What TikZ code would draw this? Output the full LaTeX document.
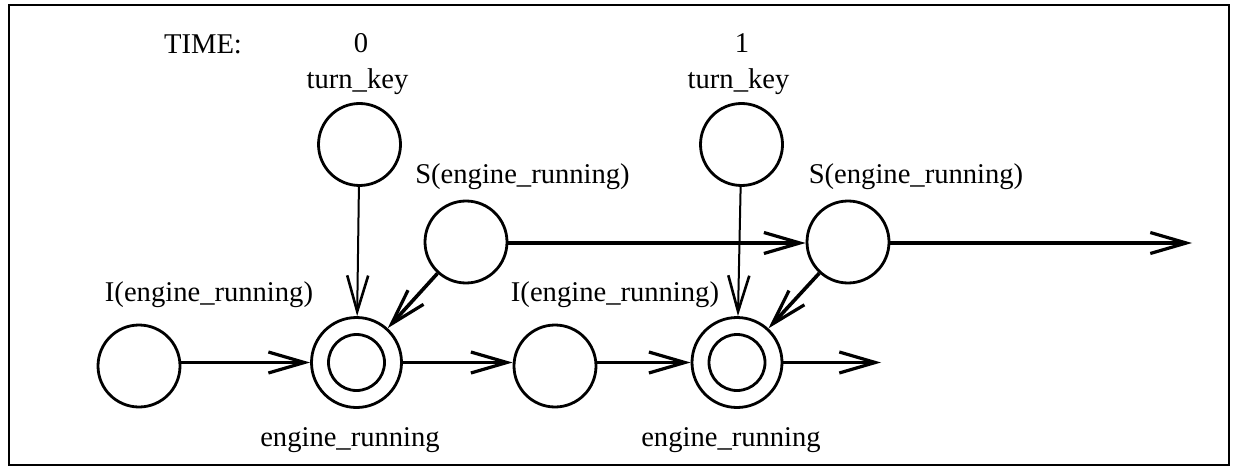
\documentclass[tikz,border=0pt]{standalone}
\usepackage{fontspec}
\setmainfont{Liberation Serif}
\usetikzlibrary{arrows.meta}
\begin{document}
\begin{tikzpicture}[x=0.5pt,y=-0.5pt,
  st/.style={circle,draw,line width=1.4pt,minimum size=41pt,inner sep=0pt},
  outer/.style={circle,draw,line width=1.4pt,minimum size=45pt,inner sep=0pt},
  inner/.style={circle,draw,line width=1.4pt,minimum size=28pt,inner sep=0pt},
  lbl/.style={font=\fontsize{14.3}{16}\selectfont,inner sep=0pt},
  arr/.style={line width=1.8pt,-{Straight Barb[length=18pt,width=10.5pt,line width=1.6pt]}},
  varr/.style={line width=1pt,-{Straight Barb[length=18pt,width=10.5pt,line width=1.3pt]}}]
\useasboundingbox (0,0) rectangle (1235,470);
\node[draw,line width=1.2pt,minimum width=610pt,minimum height=230pt,inner sep=0pt] (frame) at (619,235) {};
% labels
\node[lbl] (time) at (203,44) {TIME:};
\node[lbl] (t0) at (361,43) {0};
\node[lbl] (t1) at (742,43) {1};
\node[lbl] (tk0l) at (357.5,82) {turn\_key};
\node[lbl] (tk1l) at (738.5,82) {turn\_key};
\node[lbl] (s0l) at (522.5,177) {S(engine\_running)};
\node[lbl] (s1l) at (916,177) {S(engine\_running)};
\node[lbl] (i0l) at (209,295) {I(engine\_running)};
\node[lbl] (i1l) at (615,295) {I(engine\_running)};
\node[lbl] (e0l) at (350,440) {engine\_running};
\node[lbl] (e1l) at (731,440) {engine\_running};
% nodes
\node[st] (tk0) at (359.5,144.5) {};
\node[st] (tk1) at (741.5,144.5) {};
\node[st] (s0) at (466,242) {};
\node[st] (s1) at (848,242) {};
\node[st] (i0) at (139,366) {};
\node[st] (i1) at (555,366) {};
\node[outer] (e0) at (356.5,362.5) {};
\node[inner] (e0i) at (356.5,362.5) {};
\node[outer] (e1) at (737,362.5) {};
\node[inner] (e1i) at (737,362.5) {};
\coordinate (s1end) at (1192,243);
\coordinate (e1end) at (881,362.5);
% edges
\draw[varr] (tk0) -- (e0);
\draw[varr] (tk1) -- (e1);
\draw[arr] (s0) -- (e0);
\draw[arr] (s1) -- (e1);
\draw[arr] (s0.east |- 0,243) -- (s1.west |- 0,243);
\draw[arr] (s1.east |- 0,243) -- (s1end);
\draw[arr] (i0.east |- 0,362.5) -- (e0);
\draw[arr] (e0) -- (i1.west |- 0,362.5);
\draw[arr] (i1.east |- 0,362.5) -- (e1);
\draw[arr] (e1) -- (e1end);
\end{tikzpicture}
\end{document}
